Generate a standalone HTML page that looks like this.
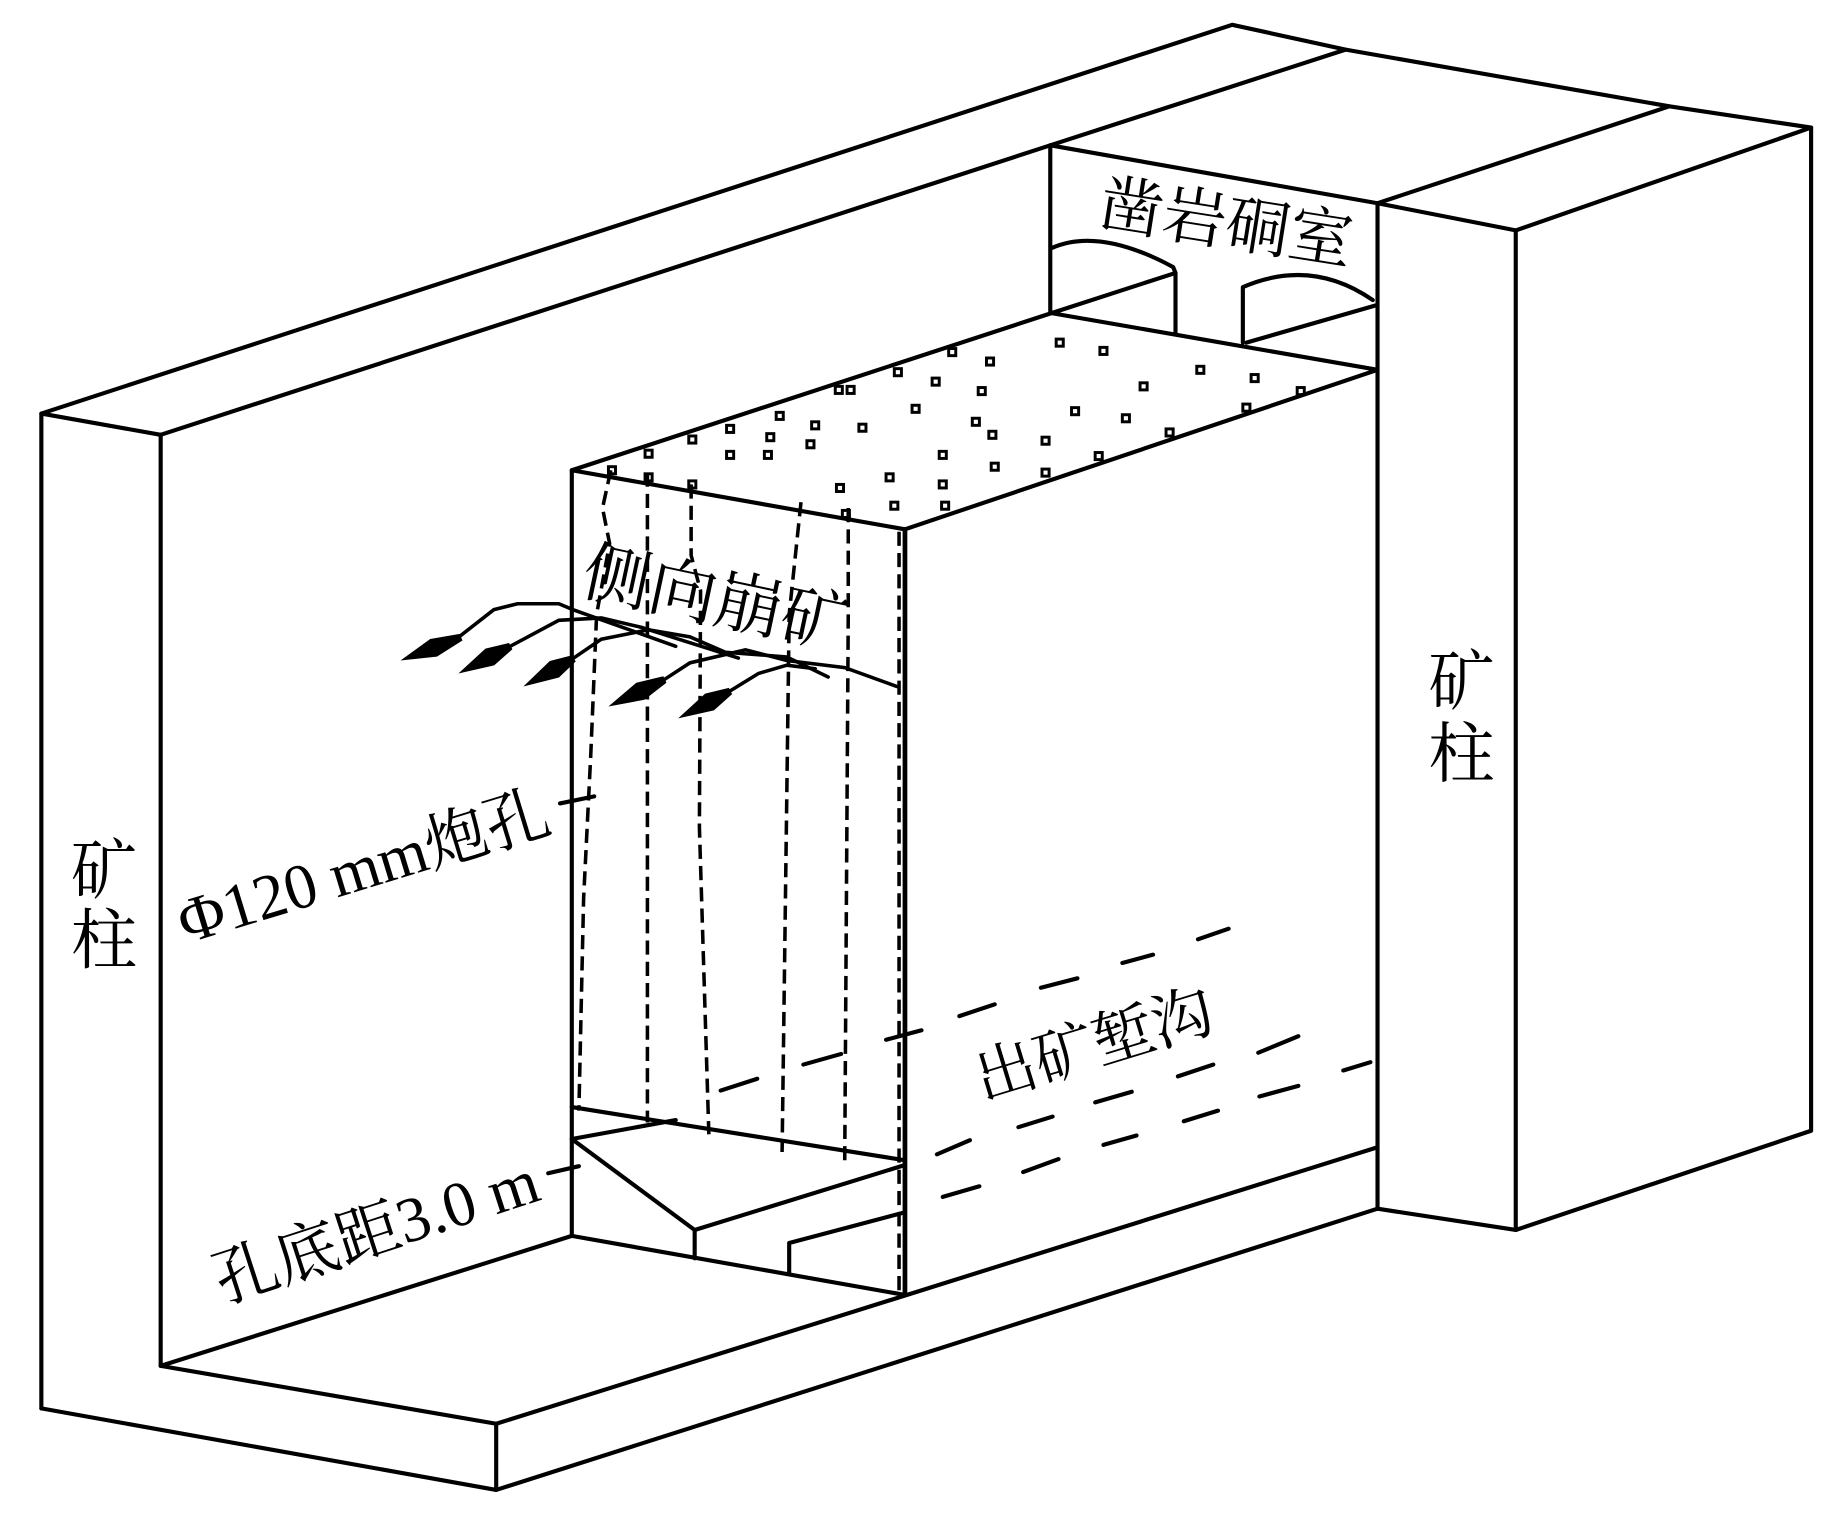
<!DOCTYPE html>
<html><head><meta charset="utf-8"><style>
html,body{margin:0;padding:0;background:#fff;}
svg{display:block;}
text{font-family:"Liberation Serif","Noto Serif CJK SC",serif;fill:#000;}
</style></head><body>
<svg width="1843" height="1523" viewBox="0 0 1560 1289" preserveAspectRatio="none" xmlns="http://www.w3.org/2000/svg">
<g fill="none" stroke="#000" stroke-width="3.5" stroke-linejoin="round" stroke-linecap="round">
<polyline points="35,1192 35,350 1043,21 1139,42 1413,90 1533,108 1533,957 1283,1041 1166,1023"/>
<line x1="35" y1="350" x2="136" y2="368"/>
<line x1="136" y1="368" x2="889" y2="123"/>
<line x1="1139" y1="42" x2="889" y2="123"/>
<line x1="136" y1="368" x2="136" y2="1156"/>
<line x1="1413" y1="90" x2="1166" y2="172"/>
<polyline points="1166,172 1283,195 1533,108"/>
<line x1="1283" y1="195" x2="1283" y2="1041"/>
<line x1="1166" y1="172" x2="1166" y2="1023"/>
<line x1="889" y1="123" x2="1166" y2="172"/>
<line x1="889" y1="123" x2="889" y2="265"/>
<path d="M890,210 Q930,192 993,226 L995,231 L995,282"/>
<path d="M1052,290 L1052,243 Q1110,218 1162,254"/>
<line x1="890" y1="265" x2="995" y2="231"/>
<line x1="1055" y1="290" x2="1166" y2="258"/>
<polyline points="484,398 890,265 1166,313 766,448 484,398"/>
<line x1="484" y1="398" x2="484" y2="1046"/>
<line x1="766" y1="448" x2="766" y2="1096" stroke-width="4"/>
<polyline points="136,1156 484,1046 766,1096"/>
<polyline points="136,1156 420,1205 1166,971"/>
<polyline points="35,1192 420,1261 1166,1023"/>
<line x1="420" y1="1205" x2="420" y2="1261"/>
<line x1="484" y1="937" x2="766" y2="982"/>
<line x1="484" y1="964" x2="572" y2="948"/>
<polyline points="484,964 588,1041 766,986"/>
<line x1="588" y1="1041" x2="588" y2="1065"/>
<polyline points="668,1077 668,1052 766,1026"/>
</g>
<g fill="none" stroke="#000" stroke-width="3" stroke-dasharray="12,6">
<polyline points="517,398 510,430 516,460 505,520 500,640 494,760 490,940"/>
<polyline points="548,400 548,950"/>
<polyline points="585,410 585,470 593,500 592,700 600,960"/>
<polyline points="678,425 668,520 662,975"/>
<polyline points="718,430 718,520 715,985"/>
<line x1="761" y1="450" x2="761" y2="1092"/>
</g>
<g stroke="#000" stroke-width="3.5" stroke-linecap="round">
<line x1="1014" y1="795" x2="1040" y2="786"/><line x1="950" y1="815" x2="976" y2="808"/>
<line x1="881" y1="836" x2="912" y2="828"/><line x1="812" y1="860" x2="842" y2="850"/>
<line x1="680" y1="901" x2="712" y2="892"/><line x1="610" y1="923" x2="641" y2="913"/>
<line x1="1065" y1="891" x2="1099" y2="877"/><line x1="997" y1="911" x2="1027" y2="901"/>
<line x1="927" y1="933" x2="958" y2="924"/><line x1="862" y1="954" x2="891" y2="945"/>
<line x1="793" y1="977" x2="821" y2="965"/><line x1="1137" y1="906" x2="1160" y2="899"/>
<line x1="1066" y1="928" x2="1099" y2="919"/><line x1="1002" y1="949" x2="1031" y2="940"/>
<line x1="934" y1="969" x2="962" y2="961"/><line x1="866" y1="992" x2="896" y2="981"/>
<line x1="798" y1="1013" x2="829" y2="1004"/><line x1="750" y1="880" x2="780" y2="872"/>
<line x1="474" y1="680" x2="503" y2="674"/><line x1="464" y1="993" x2="490" y2="987"/>
</g>
<g fill="none" stroke="#000" stroke-width="2.5">
<rect x="546" y="381" width="6" height="6"/><rect x="583" y="369" width="6" height="6"/><rect x="615" y="360" width="6" height="6"/>
<rect x="657" y="349" width="6" height="6"/><rect x="707" y="327" width="6" height="6"/><rect x="757" y="312" width="6" height="6"/>
<rect x="803" y="295" width="6" height="6"/><rect x="894" y="287" width="6" height="6"/>
<rect x="931" y="294" width="6" height="6"/><rect x="1013" y="310" width="6" height="6"/><rect x="1059" y="317" width="6" height="6"/>
<rect x="1098" y="328" width="6" height="6"/><rect x="717" y="327" width="6" height="6"/><rect x="789" y="320" width="6" height="6"/>
<rect x="828" y="328" width="6" height="6"/><rect x="965" y="324" width="6" height="6"/><rect x="687" y="357" width="6" height="6"/>
<rect x="727" y="359" width="6" height="6"/><rect x="772" y="343" width="6" height="6"/><rect x="823" y="354" width="6" height="6"/>
<rect x="907" y="345" width="6" height="6"/><rect x="950" y="351" width="6" height="6"/><rect x="987" y="363" width="6" height="6"/>
<rect x="1052" y="342" width="6" height="6"/><rect x="615" y="382" width="6" height="6"/><rect x="647" y="382" width="6" height="6"/>
<rect x="683" y="373" width="6" height="6"/><rect x="795" y="382" width="6" height="6"/><rect x="837" y="365" width="6" height="6"/>
<rect x="882" y="370" width="6" height="6"/><rect x="927" y="383" width="6" height="6"/><rect x="583" y="407" width="6" height="6"/>
<rect x="546" y="401" width="6" height="6"/><rect x="515" y="395" width="6" height="6"/><rect x="708" y="410" width="6" height="6"/>
<rect x="750" y="401" width="6" height="6"/><rect x="795" y="407" width="6" height="6"/><rect x="839" y="392" width="6" height="6"/>
<rect x="882" y="397" width="6" height="6"/><rect x="754" y="425" width="6" height="6"/><rect x="713" y="432" width="6" height="6"/>
<rect x="797" y="425" width="6" height="6"/><rect x="649" y="367" width="6" height="6"/><rect x="835" y="303" width="6" height="6"/>
</g>
<g fill="none" stroke="#000" stroke-width="3" stroke-linecap="round">
<polyline points="386,541 418,516 438,511 473,511 485,516 572,547"/>
<polyline points="430,548 473,525 509,523 543,531 625,557"/>
<polyline points="484,558 509,541 549,533 584,539 614,552 666,556 701,573"/>
<polyline points="561,576 584,561 631,550 666,559 715,565 759,581"/>
<polyline points="616,586 642,570 666,563 690,566"/>
</g>
<g fill="#000">
<path d="M0,0 L30,-8 L55,-3 L55,3 L30,8 Z" transform="translate(339,559) rotate(-21)"/>
<path d="M0,0 L30,-8 L50,-3 L50,3 L30,8 Z" transform="translate(388,570) rotate(-27.6)"/>
<path d="M0,0 L30,-8 L49,-3 L49,3 L30,8 Z" transform="translate(443,581) rotate(-29)"/>
<path d="M0,0 L30,-8 L53,-3 L53,3 L30,8 Z" transform="translate(515,598) rotate(-25.6)"/>
<path d="M0,0 L30,-8 L50,-3 L50,3 L30,8 Z" transform="translate(574,608) rotate(-27.6)"/>
</g>
<text x="1038" y="207" font-size="54" text-anchor="middle" transform="rotate(9 1038 188)">凿岩硐室</text>
<text x="88" y="756" font-size="56" text-anchor="middle">矿</text>
<text x="88" y="815" font-size="56" text-anchor="middle">柱</text>
<text x="1237" y="596" font-size="56" text-anchor="middle">矿</text>
<text x="1237" y="657" font-size="56" text-anchor="middle">柱</text>
<text x="606" y="526" font-size="57" text-anchor="middle" transform="rotate(12 606 507)">侧向崩矿</text>
<text x="308" y="752" font-size="54" text-anchor="middle" transform="rotate(-17 308 735)">Φ120 mm炮孔</text>
<text x="318" y="1060" font-size="54" text-anchor="middle" transform="rotate(-18 318 1040)">孔底距3.0 m</text>
<text x="926" y="902" font-size="52" text-anchor="middle" transform="rotate(-17 926 884)">出矿堑沟</text>
</svg>
</body></html>
